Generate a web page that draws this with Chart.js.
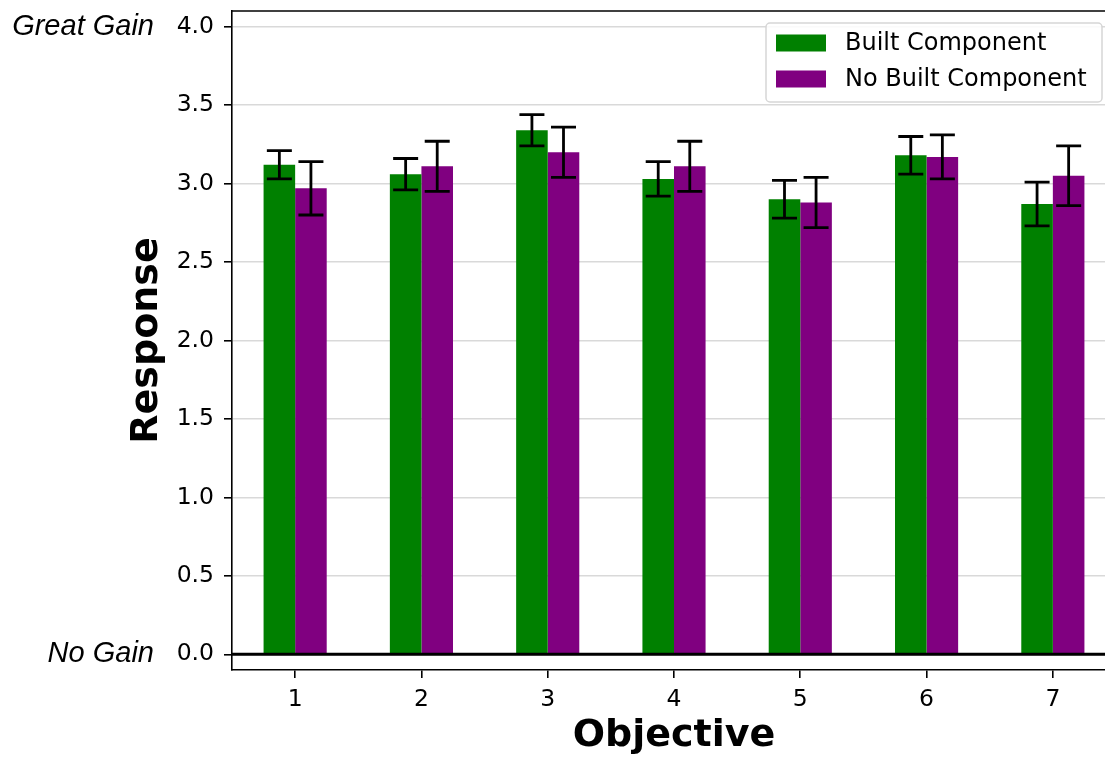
<!DOCTYPE html>
<html>
<head>
<meta charset="utf-8">
<script src="https://cdn.jsdelivr.net/npm/chart.js@4"></script>
<style>
    html, body { margin: 0; padding: 0; background: #fff; overflow: hidden; }
    #wrap { width: 1130px; height: 757px; position: relative; }
</style>
</head>
<body>
<div id="wrap"><canvas id="myChart"></canvas></div>
<script>
// Data
const categories = ['1', '2', '3', '4', '5', '6', '7'];
const builtValues = [3.12, 3.06, 3.34, 3.03, 2.90, 3.18, 2.87];
const builtErrors = [0.09, 0.10, 0.10, 0.11, 0.12, 0.12, 0.14];
const noBuiltValues = [2.97, 3.11, 3.20, 3.11, 2.88, 3.17, 3.05];
const noBuiltErrors = [0.17, 0.16, 0.16, 0.16, 0.16, 0.14, 0.19];
const yTicks = [0, 0.5, 1, 1.5, 2, 2.5, 3, 3.5, 4];
const seriesNames = ['Built Component', 'No Built Component'];
const seriesColors = ['#008000', '#800080'];

// Error bars, spines, zero line, side labels and legend box
const extrasPlugin = {
    id: 'extras',
    afterDatasetsDraw(chart) {
        const ctx = chart.ctx;
        const area = chart.chartArea;
        const y = chart.scales.y;

        // black line at zero
        ctx.save();
        ctx.strokeStyle = '#000';
        ctx.lineWidth = 3;
        ctx.beginPath();
        ctx.moveTo(area.left, y.getPixelForValue(0));
        ctx.lineTo(area.right, y.getPixelForValue(0));
        ctx.stroke();

        // top spine
        ctx.lineWidth = 1.6;
        ctx.beginPath();
        ctx.moveTo(area.left, area.top);
        ctx.lineTo(area.right, area.top);
        ctx.stroke();

        // error bars
        const errors = [builtErrors, noBuiltErrors];
        chart.data.datasets.forEach(function(ds, di) {
            const meta = chart.getDatasetMeta(di);
            meta.data.forEach(function(bar, i) {
                const v = ds.data[i];
                const e = errors[di][i];
                const yTop = y.getPixelForValue(v + e);
                const yBot = y.getPixelForValue(v - e);
                const cap = 12.5;
                ctx.lineWidth = 2.8;
                ctx.beginPath();
                ctx.moveTo(bar.x, yTop);
                ctx.lineTo(bar.x, yBot);
                ctx.moveTo(bar.x - cap, yTop);
                ctx.lineTo(bar.x + cap, yTop);
                ctx.moveTo(bar.x - cap, yBot);
                ctx.lineTo(bar.x + cap, yBot);
                ctx.stroke();
            });
        });

        // Great Gain / No Gain labels
        ctx.fillStyle = '#000';
        ctx.font = 'italic 29px "Liberation Sans", Arial, sans-serif';
        ctx.textAlign = 'right';
        ctx.textBaseline = 'middle';
        ctx.fillText('Great Gain', 154, y.getPixelForValue(4));
        ctx.fillText('No Gain', 154, y.getPixelForValue(0));

        // legend box
        const boxX = 766, boxY = 23, boxW = 336, boxH = 79;
        ctx.fillStyle = 'rgba(255,255,255,0.85)';
        ctx.strokeStyle = '#d6d6d6';
        ctx.lineWidth = 1.5;
        ctx.beginPath();
        ctx.roundRect(boxX, boxY, boxW, boxH, 4);
        ctx.fill();
        ctx.stroke();

        ctx.font = '24px "DejaVu Sans", sans-serif';
        ctx.textAlign = 'left';
        seriesNames.forEach(function(name, i) {
            const rowY = boxY + 20 + i * 36;
            ctx.fillStyle = seriesColors[i];
            ctx.fillRect(boxX + 10, rowY - 8.5, 50, 17);
            ctx.fillStyle = '#000';
            ctx.fillText(name, boxX + 79, rowY + 1);
        });
        ctx.restore();
    }
};

function drawChart() {
    const ctx = document.getElementById('myChart');
    const myChart = new Chart(ctx, {
        type: 'bar',
        data: {
            labels: categories,
            datasets: [{
                label: seriesNames[0],
                data: builtValues,
                backgroundColor: seriesColors[0],
                borderWidth: 0
            }, {
                label: seriesNames[1],
                data: noBuiltValues,
                backgroundColor: seriesColors[1],
                borderWidth: 0
            }]
        },
        options: {
            responsive: true,
            maintainAspectRatio: false,
            animation: false,
            categoryPercentage: 0.5,
            barPercentage: 1.0,
            layout: { padding: { left: 0, right: 14, top: 11, bottom: 0 } },
            plugins: {
                legend: { display: false },
                tooltip: { enabled: false }
            },
            scales: {
                x: {
                    offset: true,
                    grid: {
                        offset: false,
                        drawOnChartArea: false,
                        drawTicks: true,
                        tickLength: 8,
                        tickColor: '#000',
                        lineWidth: 1.6
                    },
                    border: { display: true, color: '#000', width: 1.6 },
                    ticks: {
                        color: '#000',
                        padding: 8,
                        maxRotation: 0,
                        font: { family: '"DejaVu Sans", sans-serif', size: 23.5 }
                    },
                    title: {
                        display: true,
                        text: 'Objective',
                        color: '#000',
                        padding: { top: 0, bottom: 0 },
                        font: { family: '"DejaVu Sans", sans-serif', size: 38, weight: 'bold', lineHeight: 1.1 }
                    },
                    afterFit: function(scale) {
                        scale.height = 87;
                        scale.paddingLeft = 0;
                        scale.paddingRight = 0;
                    }
                },
                y: {
                    min: -0.1,
                    max: 4.1,
                    afterBuildTicks: function(axis) {
                        axis.ticks = yTicks.map(v => ({ value: v }));
                    },
                    grid: {
                        color: '#d9d9d9',
                        lineWidth: 1.6,
                        tickLength: 8,
                        tickColor: '#000'
                    },
                    border: { display: true, color: '#000', width: 1.6 },
                    ticks: {
                        color: '#000',
                        padding: 10,
                        font: { family: '"DejaVu Sans", sans-serif', size: 23.5 },
                        callback: function(value) { return Number(value).toFixed(1); }
                    },
                    title: {
                        display: true,
                        text: 'Response',
                        color: '#000',
                        padding: { top: 124, bottom: 0 },
                        font: { family: '"DejaVu Sans", sans-serif', size: 38, weight: 'bold', lineHeight: 1.2 }
                    },
                    afterFit: function(scale) {
                        scale.width = 232;
                        scale.paddingTop = 0;
                        scale.paddingBottom = 0;
                    }
                }
            }
        },
        plugins: [extrasPlugin]
    });
    ctx.chart = myChart;
}

document.addEventListener('DOMContentLoaded', drawChart);
</script>
</body>
</html>
